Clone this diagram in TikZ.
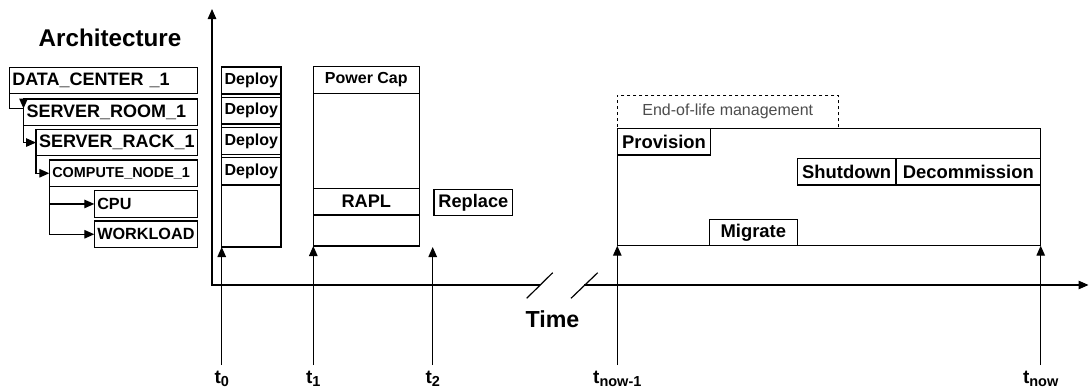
\documentclass[tikz,border=0pt]{standalone}
\usepackage{fontspec}
\setmainfont{Liberation Sans}
\usetikzlibrary{arrows.meta}
\newcommand\myfs[1]{\fontsize{#1}{#1}\selectfont}
\begin{document}
\begin{tikzpicture}[x=1pt,y=-1pt,
  ln/.style={line width=1.2pt, draw=black},
  arr/.style={ln, -{Triangle[length=10pt,width=8.5pt]}},
  box/.style={ln, rectangle, inner sep=0pt, outer sep=0pt, anchor=north west, font=\bfseries\myfs{16}},
  lbox/.style={box, inner xsep=3pt, align=left, minimum height=26.5pt},
  cbox/.style={box, align=center},
  eolbox/.style={box, dash pattern=on 3pt off 3pt, font=\myfs{16}, text=black!70},
  tlab/.style={anchor=base, inner sep=0pt, font=\bfseries\myfs{19}},
]
\useasboundingbox (0,0) rectangle (1089,389);

% axes
\coordinate (axtop) at (212,9);
\coordinate (orig) at (212,285);
\coordinate (brkA) at (539.7,285);
\coordinate (brkB) at (584.3,285);
\coordinate (axend) at (1088.5,285);
\draw[arr] (brkA) -- (orig) -- (axtop);
\draw[arr] (brkB) -- (axend);
\draw[ln] (526.7,298.3) -- (552.7,272.7);
\draw[ln] (571,298.3) -- (597.7,272.7);
\node[font=\bfseries\myfs{23.2}, inner sep=0pt] (time) at (552.5,319.2) {Time};

% architecture
\node[font=\bfseries\myfs{24.2}, inner sep=0pt] (title) at (110,38.3) {Architecture};
\node[lbox, text width=182pt, font=\bfseries\myfs{18}] (dc) at (9.3,67.3) {DATA\_CENTER \_1};
\node[lbox, text width=167.8pt, font=\bfseries\myfs{18}] (sr) at (23.5,99) {SERVER\_ROOM\_1};
\node[lbox, text width=155.3pt, font=\bfseries\myfs{18}] (rack) at (36,129.3) {SERVER\_RACK\_1};
\node[lbox, text width=142pt, font=\bfseries\myfs{14.4}] (cn) at (49.3,160) {COMPUTE\_NODE\_1};
\node[lbox, text width=97pt, font=\bfseries\myfs{16.2}] (cpu) at (94.3,190.7) {CPU};
\node[lbox, text width=97pt, font=\bfseries\myfs{16.2}] (wl) at (94.3,221) {WORKLOAD};

\coordinate (dcsr) at (23.5,108.5);
\draw[ln] (dc.south west) |- (dcsr);
\draw[arr] ([yshift=9pt]dcsr) -- (dcsr);
\draw[arr] (dcsr) |- (rack.west);
\draw[arr] (rack.south west) |- (cn.west);
\draw[arr] (cn.south west) |- (cpu.west);
\draw[arr] (cn.south west) |- (wl.west);

% deploy column
\node[box, minimum width=59.3pt, minimum height=180.3pt] (dcol) at (221.7,66.7) {};
\node[cbox, minimum width=59.3pt, minimum height=26.7pt] (d1) at (221.7,67.3) {Deploy};
\node[cbox, minimum width=59.3pt, minimum height=26.7pt] (d2) at (221.7,97.3) {Deploy};
\node[cbox, minimum width=59.3pt, minimum height=27.5pt] (d3) at (221.7,127.2) {Deploy};
\node[cbox, minimum width=59.3pt, minimum height=27.5pt] (d4) at (221.7,157.5) {Deploy};

% power cap column
\node[box, minimum width=106pt, minimum height=179.3pt] (pcol) at (313.3,66.7) {};
\node[cbox, minimum width=106pt, minimum height=26.6pt] (pc) at (313.3,66.7) {Power Cap};
\node[cbox, minimum width=106pt, minimum height=26.7pt, font=\bfseries\myfs{18.2}] (rapl) at (313.3,188.3) {RAPL};
\node[cbox, minimum width=78.7pt, minimum height=26pt, font=\bfseries\myfs{18.2}] (repl) at (434,189.3) {Replace};

% right block
\node[eolbox, minimum width=221pt, minimum height=33pt] (eol) at (617.3,95.3) {End-of-life management};
\node[box, minimum width=423.4pt, minimum height=117.4pt] (big) at (617.3,128.3) {};
\node[cbox, minimum width=93.4pt, minimum height=26.7pt, font=\bfseries\myfs{18.4}] (prov) at (617.3,128.3) {Provision};
\node[cbox, minimum width=98.7pt, minimum height=26.7pt, font=\bfseries\myfs{18.4}] (shut) at (797.3,158.3) {Shutdown};
\node[cbox, minimum width=144.7pt, minimum height=26.7pt, font=\bfseries\myfs{18.4}] (decom) at (896,158.3) {Decommission};
\node[cbox, minimum width=88pt, minimum height=26.4pt, font=\bfseries\myfs{18.4}] (mig) at (709.3,219.3) {Migrate};

% time markers
\node[tlab] (l0) at (221.7,383.3) {t\raisebox{-3.4pt}{\myfs{14.5}0}};
\node[tlab] (l1) at (313.3,383.3) {t\raisebox{-3.4pt}{\myfs{14.5}1}};
\node[tlab] (l2) at (432.7,383.3) {t\raisebox{-3.4pt}{\myfs{14.5}2}};
\node[tlab] (l3) at (617.3,383.3) {t\raisebox{-3.4pt}{\myfs{14.5}now-1}};
\node[tlab] (l4) at (1040.7,383.3) {t\raisebox{-3.4pt}{\myfs{14.5}now}};
\coordinate (b0) at (221.7,365);
\coordinate (b1) at (313.3,365);
\coordinate (b2) at (432.7,365);
\coordinate (e2) at (432.7,247);
\coordinate (b3) at (617.3,365);
\coordinate (b4) at (1040.7,365);
\draw[arr] (b0) -- (dcol.south west);
\draw[arr] (b1) -- (pcol.south west);
\draw[arr] (b2) -- (e2);
\draw[arr] (b3) -- (big.south west);
\draw[arr] (b4) -- (big.south east);
\end{tikzpicture}
\end{document}
